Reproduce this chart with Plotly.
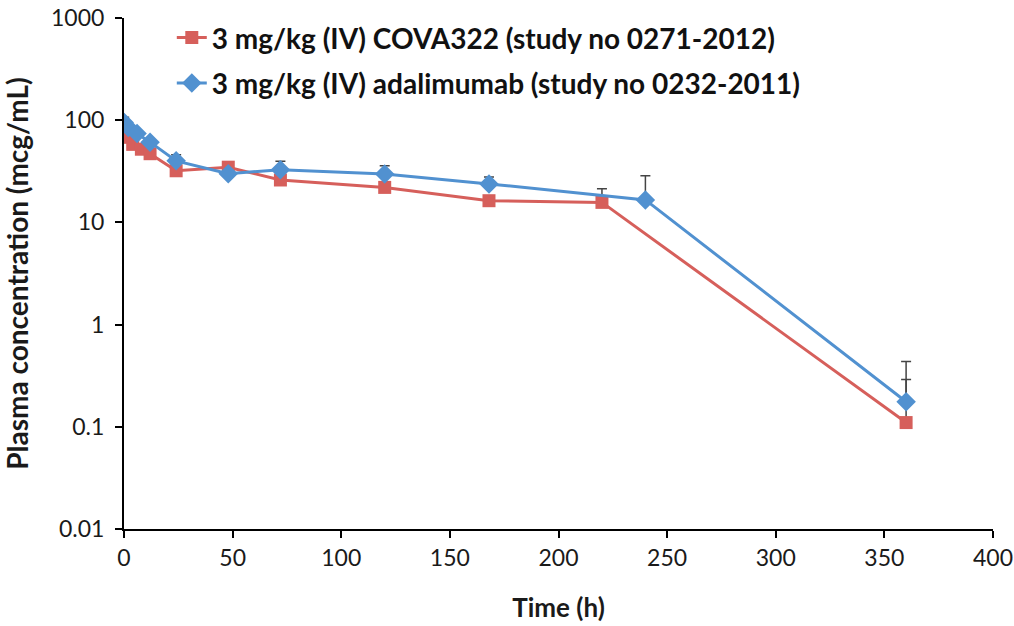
import plotly.graph_objects as go

# COVA322 (red squares)
cova_time = [0.083, 1, 4, 8, 12, 24, 48, 72, 120, 168, 220, 360]
cova_conc = [78, 68, 58, 52, 47, 32, 34.7, 26, 22, 16.3, 15.7, 0.11]
cova_err = [0, 0, 0, 0, 0, 0, 0, 0, 0, 0, 5.7, 0.18]

# adalimumab (blue diamonds)
adal_time = [0.083, 2, 6, 12, 24, 48, 72, 120, 168, 240, 360]
adal_conc = [95, 85, 74, 61, 40, 30, 32.7, 29.8, 23.8, 16.6, 0.176]
adal_err = [12, 0, 0, 0, 6, 0, 7, 6, 4, 12, 0.26]

y_ticks = [0.01, 0.1, 1, 10, 100, 1000]
y_tick_labels = ["0.01", "0.1", "1", "10", "100", "1000"]

red = "#D65F5B"
blue = "#5191D0"
err_color = "#444444"

fig = go.Figure()
fig.add_trace(go.Scatter(
    x=cova_time, y=cova_conc, mode="lines+markers",
    name="3 mg/kg (IV) COVA322 (study no 0271-2012)",
    legendgroup="a",
    line=dict(color=red, width=3),
    marker=dict(symbol="square", size=13, color=red),
    error_y=dict(type="data", symmetric=False, array=cova_err,
                 arrayminus=[0] * len(cova_err), color=err_color,
                 thickness=1.5, width=5),
))
fig.add_trace(go.Scatter(
    x=adal_time, y=adal_conc, mode="lines+markers",
    name="3 mg/kg (IV) adalimumab (study no 0232-2011)",
    legendgroup="b",
    line=dict(color=blue, width=3),
    marker=dict(symbol="diamond", size=15, color=blue),
    error_y=dict(type="data", symmetric=False, array=adal_err,
                 arrayminus=[0] * len(adal_err), color=err_color,
                 thickness=1.5, width=5),
))

font_family = "Lato, 'Open Sans', sans-serif"

fig.update_layout(
    width=1014, height=626,
    margin=dict(l=124, r=21, t=18, b=97),
    paper_bgcolor="white", plot_bgcolor="white",
    font=dict(family=font_family, size=23, color="#1a1a1a"),
    showlegend=True,
    legend=dict(
        x=0.055, y=1.010, xanchor="left", yanchor="top",
        bgcolor="rgba(0,0,0,0)",
        font=dict(size=28, family=font_family, color="#111111", weight="bold"),
        itemwidth=30, tracegroupgap=6,
    ),
    xaxis=dict(
        range=[0, 400], dtick=50, tick0=0, automargin=False,
        showline=True, linecolor="black", linewidth=2,
        ticks="outside", ticklen=7, tickwidth=2, tickcolor="black",
        showgrid=False, zeroline=False,
        tickfont=dict(size=23),
        title=dict(text="<b>Time (h)</b>", font=dict(size=26), standoff=29),
    ),
    yaxis=dict(
        type="log", range=[-2, 3], automargin=False,
        tickvals=y_ticks, ticktext=y_tick_labels,
        showline=True, linecolor="black", linewidth=2,
        ticks="outside", ticklen=7, tickwidth=2, tickcolor="black",
        ticklabelstandoff=6,
        showgrid=False, zeroline=False,
        tickfont=dict(size=23),
        title=dict(text="<b>Plasma concentration (mcg/mL)</b>", font=dict(size=28), standoff=14),
    ),
)

fig.write_html("out.html")
